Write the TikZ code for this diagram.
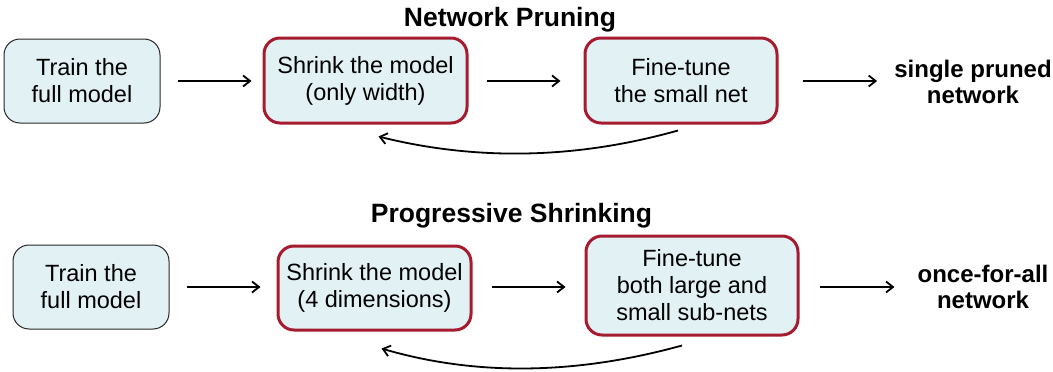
\documentclass[tikz,border=0pt]{standalone}
\usepackage{fontspec}
\setmainfont{Liberation Sans}
\usetikzlibrary{arrows.meta}
\definecolor{boxfill}{HTML}{E2F1F4}
\definecolor{boxred}{HTML}{A51C30}
\begin{document}
\begin{tikzpicture}[x=1pt,y=-1pt,
  plainbox/.style={draw=black!85,line width=1pt,fill=boxfill,rounded corners=16pt,
    align=center,inner sep=0pt,font=\fontsize{23.5}{27}\selectfont},
  redbox/.style={draw=boxred,line width=3pt,fill=boxfill,rounded corners=16pt,
    align=center,inner sep=0pt,font=\fontsize{23.5}{27}\selectfont},
  outtext/.style={align=center,inner sep=0pt,font=\fontsize{24}{26}\selectfont\bfseries},
  titletext/.style={inner sep=0pt,anchor=base,font=\fontsize{26.5}{30}\selectfont\bfseries},
  flow/.style={-{Straight Barb[length=7pt,width=11pt]},line width=1.8pt}]
\useasboundingbox (0,0) rectangle (1053,372);
% ---------- Network Pruning ----------
\node[titletext] (t1) at (510,27) {Network Pruning};
\node[plainbox,minimum width=156pt,minimum height=84pt] (a1) at (82,81) {Train the\\full model};
\node[redbox,minimum width=203pt,minimum height=85pt] (a2) at (365.5,80.5) {Shrink the model\\(only width)};
\node[redbox,minimum width=192pt,minimum height=85pt] (a3) at (681,80.5) {Fine-tune\\the small net};
\node[outtext] (a4) at (973,82) {single pruned\\network};
\draw[flow,shorten <=17pt,shorten >=11pt] (a1.east) -- (a2.west |- a1.east);
\draw[flow,shorten <=18pt,shorten >=23pt] (a2.east |- a1.east) -- (a3.west |- a1.east);
\draw[flow,shorten <=24pt,shorten >=17pt] (a3.east |- a1.east) -- (a4.west |- a1.east);
\coordinate (a3s) at ([xshift=-3pt,yshift=-6pt]a3.south);
\coordinate (a2s) at ([xshift=13pt,yshift=-12pt]a2.south);
\draw[flow] (a3s) .. controls (576.7,159) and (476.7,161) .. (a2s);
% ---------- Progressive Shrinking ----------
\node[titletext] (t2) at (511.5,222) {Progressive Shrinking};
\node[plainbox,minimum width=156pt,minimum height=84pt] (b1) at (91,287) {Train the\\full model};
\node[redbox,minimum width=193pt,minimum height=84pt] (b2) at (374.5,288) {Shrink the model\\(4 dimensions)};
\node[redbox,minimum width=212pt,minimum height=99pt] (b3) at (692,285.5) {Fine-tune\\both large and\\small sub-nets};
\node[outtext] (b4) at (983,287) {once-for-all\\network};
\draw[flow,shorten <=17pt,shorten >=16pt] (b1.east) -- (b2.west |- b1.east);
\draw[flow,shorten <=19pt,shorten >=19pt] (b2.east |- b1.east) -- (b3.west |- b1.east);
\draw[flow,shorten <=20pt,shorten >=23pt] (b3.east |- b1.east) -- (b4.west |- b1.east);
\coordinate (b3s) at ([xshift=-10pt,yshift=-9pt]b3.south);
\coordinate (b2s) at ([xshift=7pt,yshift=-17pt]b2.south);
\draw[flow] (b3s) .. controls (575.3,375) and (475.3,376) .. (b2s);
\end{tikzpicture}
\end{document}
